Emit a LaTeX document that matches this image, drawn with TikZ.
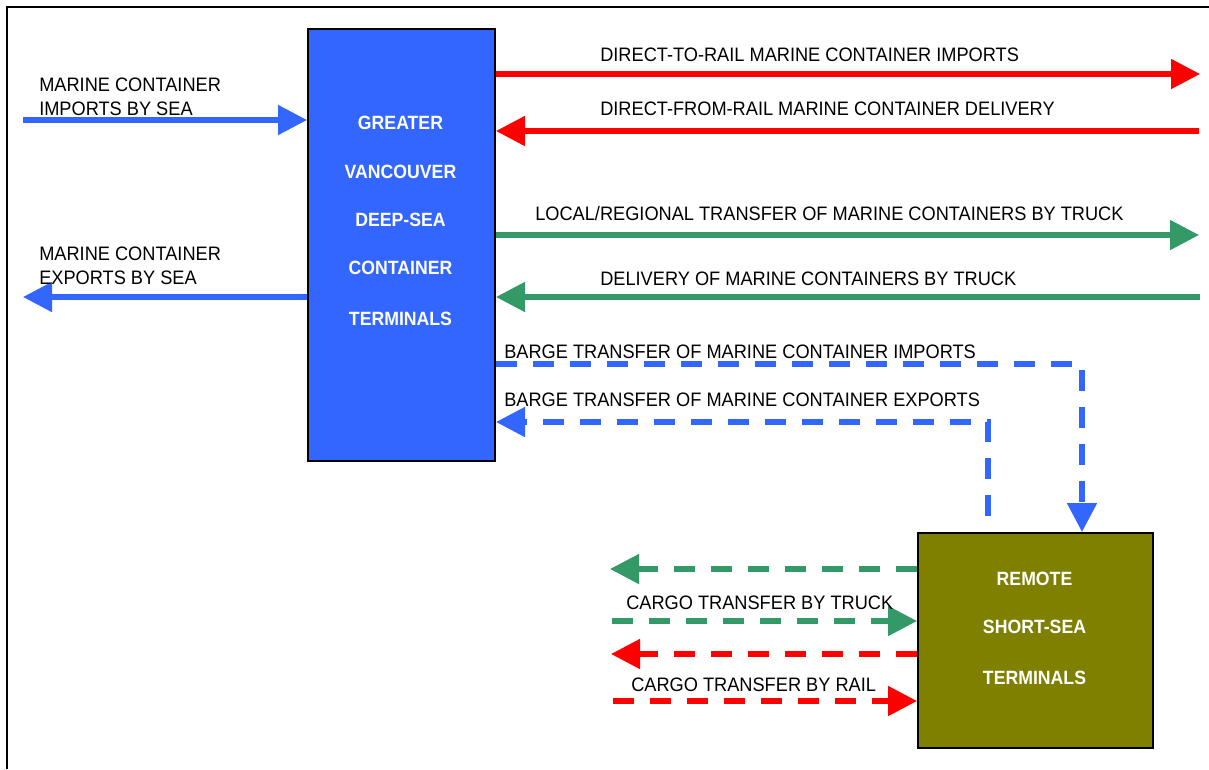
\documentclass[tikz,border=0pt]{standalone}
\usepackage{fontspec}
\setmainfont{Liberation Sans}[FakeStretch=0.935]
\newfontfamily\boxfont{Liberation Sans}[FakeStretch=0.92]
\usetikzlibrary{arrows.meta}
\definecolor{cblue}{HTML}{3366FF}
\definecolor{cred}{HTML}{FF0000}
\definecolor{cgreen}{HTML}{339966}
\definecolor{colive}{HTML}{808000}
\begin{document}
\begin{tikzpicture}[x=0.75pt,y=-0.75pt,
  lbl/.style={anchor=base west, inner sep=0pt, font=\fontsize{14.6pt}{17pt}\selectfont},
  boxtxt/.style={anchor=base, inner sep=0pt, text=white, font=\boxfont\fontsize{14.4pt}{17pt}\selectfont\bfseries},
  flow/.style={line width=3.8pt, -{Triangle[length=21.75pt,width=21.75pt]}},
  dsh/.style={dash pattern=on 16pt off 11.75pt},
  termbox/.style={draw=black, line width=1.5pt, inner sep=0pt, anchor=north west}]
\useasboundingbox (0,0) rectangle (1209,769);
% frame
\draw[line width=1.9pt] (7,769) -- (7,7) -- (1209,7);
% boxes
\node[termbox, fill=cblue, minimum width=140.25pt, minimum height=324pt] (gv) at (307,28) {};
\node[termbox, fill=colive, minimum width=176.25pt, minimum height=161.25pt] (rs) at (917,532) {};
\foreach \t/\y in {GREATER/129, VANCOUVER/178, DEEP-SEA/226, CONTAINER/274, TERMINALS/325}
  \node[boxtxt] at (400.5,\y) {\t};
\foreach \t/\y in {REMOTE/585, SHORT-SEA/633, TERMINALS/684}
  \node[boxtxt] at (1034.5,\y) {\t};
% free ends
\coordinate (seaIn) at (23,120);
\coordinate (seaOut) at (23,297);
\coordinate (r1) at (1200,74);
\coordinate (r2) at (1199,131);
\coordinate (g1) at (1199,235);
\coordinate (g2) at (1200,297);
\coordinate (ct1) at (610,569);
\coordinate (ct2) at (612,621);
\coordinate (cr1) at (611,654);
\coordinate (cr2) at (613,701);
% sea
\draw[flow, cblue] (seaIn) -- (seaIn -| gv.west);
\draw[flow, cblue] (seaOut -| gv.west) -- (seaOut);
\node[lbl] at (39,91) {MARINE CONTAINER};
\node[lbl] at (39,115) {IMPORTS BY SEA};
\node[lbl] at (39,260) {MARINE CONTAINER};
\node[lbl] at (39,284) {EXPORTS BY SEA};
% rail
\draw[flow, cred] (r1 -| gv.east) -- (r1);
\draw[flow, cred] (r2) -- (r2 -| gv.east);
\node[lbl] at (600,61) {DIRECT-TO-RAIL MARINE CONTAINER IMPORTS};
\node[lbl] at (600,115) {DIRECT-FROM-RAIL MARINE CONTAINER DELIVERY};
% truck
\draw[flow, cgreen] (g1 -| gv.east) -- (g1);
\draw[flow, cgreen] (g2) -- (g2 -| gv.east);
\node[lbl] at (535,220) {LOCAL/REGIONAL TRANSFER OF MARINE CONTAINERS BY TRUCK};
\node[lbl] at (600,285) {DELIVERY OF MARINE CONTAINERS BY TRUCK};
% barge
\draw[flow, dsh, cblue] (gv.east |- 0,364) -- (1082,364) -- (1082,0 |- rs.north);
\draw[flow, dsh, cblue] (988,516) -- (988,422) -- (gv.east |- 0,422);
\node[lbl] at (504,358) {BARGE TRANSFER OF MARINE CONTAINER IMPORTS};
\node[lbl] at (504,406) {BARGE TRANSFER OF MARINE CONTAINER EXPORTS};
% cargo
\draw[flow, dsh, cgreen] (ct1 -| rs.west) -- (ct1);
\draw[flow, dsh, cgreen] (ct2) -- (ct2 -| rs.west);
\draw[flow, dsh, cred] (cr1 -| rs.west) -- (cr1);
\draw[flow, dsh, cred] (cr2) -- (cr2 -| rs.west);
\node[lbl] at (626,609) {CARGO TRANSFER BY TRUCK};
\node[lbl] at (631,691) {CARGO TRANSFER BY RAIL};
\end{tikzpicture}
\end{document}
